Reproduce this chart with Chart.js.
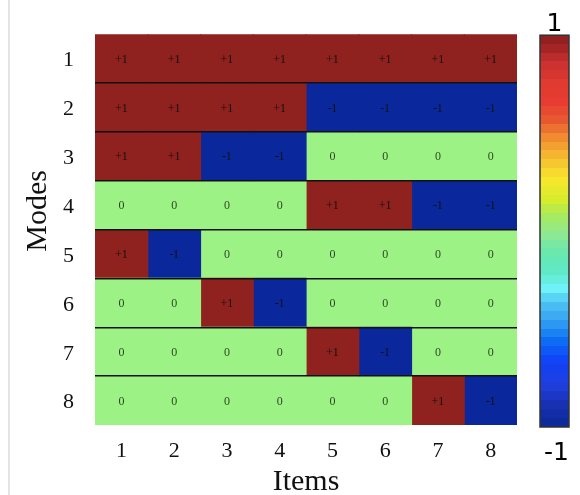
<!DOCTYPE html>
<html>
<head>
<meta charset="utf-8">
<script src="https://cdn.jsdelivr.net/npm/chart.js@4"></script>
<style>
  html, body { margin: 0; padding: 0; background: #fff; }
  #wrap { position: relative; width: 580px; height: 495px; }
  #edge { position: absolute; left: 8px; top: 0; width: 2px; height: 495px; background: #e4e4e4; }
</style>
</head>
<body>
<div id="wrap">
  <canvas id="chart" width="580" height="495"></canvas>
  <div id="edge"></div>
</div>
<script>
// --- Data ---
const modes = ['1', '2', '3', '4', '5', '6', '7', '8'];
const items = ['1', '2', '3', '4', '5', '6', '7', '8'];
// one row per mode, one value per item
const values = [
    [ 1,  1,  1,  1,  1,  1,  1,  1],
    [ 1,  1,  1,  1, -1, -1, -1, -1],
    [ 1,  1, -1, -1,  0,  0,  0,  0],
    [ 0,  0,  0,  0,  1,  1, -1, -1],
    [ 1, -1,  0,  0,  0,  0,  0,  0],
    [ 0,  0,  1, -1,  0,  0,  0,  0],
    [ 0,  0,  0,  0,  1, -1,  0,  0],
    [ 0,  0,  0,  0,  0,  0,  1, -1]
];
const barLabels = ['1', '-1'];

// --- Colours ---
const cellColors = { '1': '#8f211e', '0': '#9df285', '-1': '#0a289b' };
const cellText = v => v > 0 ? '+1' : (v < 0 ? '-1' : '0');

// colorbar stops, position 0 = top (value +1), 1 = bottom (value -1)
const cbStops = [
    [0.00, '#8a1e1e'], [0.03, '#a02424'], [0.07, '#c83030'], [0.12, '#e03a30'],
    [0.17, '#e83c32'], [0.22, '#e85a30'], [0.26, '#f08a30'], [0.31, '#f5b830'],
    [0.37, '#f8e82c'], [0.42, '#d8ec2c'], [0.46, '#a8ea5c'], [0.505, '#90e890'],
    [0.56, '#68e8b0'], [0.61, '#60e8c8'], [0.645, '#70f4f8'], [0.68, '#50c8f4'],
    [0.73, '#34a0f0'], [0.78, '#0c70f4'], [0.835, '#1040f8'], [0.89, '#2040e0'],
    [0.945, '#1830b0'], [1.00, '#0a2898']
];

function hexRgb(h) {
    return [1, 3, 5].map(i => parseInt(h.substr(i, 2), 16));
}

function cbColor(t) {
    for (let i = 1; i < cbStops.length; i++) {
        if (t <= cbStops[i][0]) {
            const [t0, c0] = cbStops[i - 1];
            const [t1, c1] = cbStops[i];
            const f = (t - t0) / (t1 - t0);
            const a = hexRgb(c0), b = hexRgb(c1);
            return 'rgb(' + a.map((v, k) => Math.round(v + (b[k] - v) * f)).join(',') + ')';
        }
    }
    return cbStops[cbStops.length - 1][1];
}

// --- Plugins ---
const cellLabels = {
    id: 'cellLabels',
    afterDatasetsDraw(chart) {
        const ctx = chart.ctx;
        ctx.save();
        ctx.font = '12px "Liberation Serif", serif';
        ctx.textAlign = 'center';
        ctx.textBaseline = 'middle';
        chart.data.datasets.forEach((ds, j) => {
            chart.getDatasetMeta(j).data.forEach((bar, i) => {
                const v = values[i][j];
                const cx = (bar.x + bar.base) / 2;
                ctx.fillStyle = v === 0 ? 'rgba(20,40,10,0.85)' : '#111';
                ctx.fillText(cellText(v), cx, bar.y + 1);
            });
        });
        ctx.restore();
    }
};

const colorBar = {
    id: 'colorBar',
    afterDraw(chart) {
        const ctx = chart.ctx;
        const area = chart.chartArea;
        const x = 540, w = 29;
        const top = area.top + 1, bottom = area.bottom + 2;
        const h = bottom - top;
        const bands = 44;
        ctx.save();
        for (let b = 0; b < bands; b++) {
            const y0 = top + h * b / bands;
            const y1 = top + h * (b + 1) / bands;
            ctx.fillStyle = cbColor((b + 0.5) / bands);
            ctx.fillRect(x, Math.floor(y0), w, Math.ceil(y1) - Math.floor(y0));
        }
        ctx.strokeStyle = '#333';
        ctx.lineWidth = 1.5;
        ctx.strokeRect(x, top, w, h);
        ctx.fillStyle = '#000';
        ctx.font = '25px "DejaVu Sans", sans-serif';
        ctx.textAlign = 'center';
        ctx.textBaseline = 'alphabetic';
        ctx.fillText(barLabels[0], x + w / 2, top - 4);
        ctx.fillText(barLabels[1], x + w / 2 + 2, bottom + 33);
        ctx.restore();
    }
};

// --- Chart ---
const datasets = items.map((it, j) => ({
    label: 'Item ' + it,
    data: modes.map(() => 1),
    backgroundColor: values.map(row => cellColors[String(row[j])]),
    borderWidth: 0,
    inflateAmount: 0.6,
    barPercentage: 1,
    categoryPercentage: 1
}));

new Chart(document.getElementById('chart'), {
    type: 'bar',
    data: { labels: modes, datasets: datasets },
    plugins: [cellLabels, colorBar],
    options: {
        indexAxis: 'y',
        responsive: false,
        animation: false,
        layout: { padding: { top: 32, right: 63, bottom: 0, left: 0 } },
        plugins: {
            legend: { display: false },
            tooltip: { enabled: false }
        },
        scales: {
            x: {
                stacked: true,
                min: 0,
                max: items.length,
                afterBuildTicks: scale => {
                    scale.ticks = items.map((_, i) => ({ value: i + 0.5 }));
                },
                afterFit: scale => { scale.height = 70; },
                grid: { display: false, drawTicks: false },
                border: { display: false },
                ticks: {
                    autoSkip: false,
                    maxRotation: 0,
                    padding: 13,
                    color: '#111',
                    font: { family: '"Liberation Serif", serif', size: 22 },
                    callback: v => items[Math.round(v - 0.5)]
                },
                title: {
                    display: true,
                    text: 'Items',
                    color: '#111',
                    font: { family: '"Liberation Serif", serif', size: 30, lineHeight: 1 },
                    padding: { top: 0, bottom: -2 }
                }
            },
            y: {
                stacked: true,
                afterFit: scale => { scale.width = 95; },
                grid: {
                    offset: true,
                    z: 1,
                    drawTicks: false,
                    lineWidth: 1.5,
                    color: c => (c.index > 0 && c.index < modes.length) ? '#111' : 'rgba(0,0,0,0)'
                },
                border: { display: false },
                ticks: {
                    padding: 21,
                    labelOffset: 2,
                    color: '#111',
                    font: { family: '"Liberation Serif", serif', size: 22 }
                },
                title: {
                    display: true,
                    text: '     Modes',
                    color: '#111',
                    font: { family: '"Liberation Serif", serif', size: 30, lineHeight: 1.2 },
                    padding: { top: 20, bottom: 0 }
                }
            }
        }
    }
});
</script>
</body>
</html>
